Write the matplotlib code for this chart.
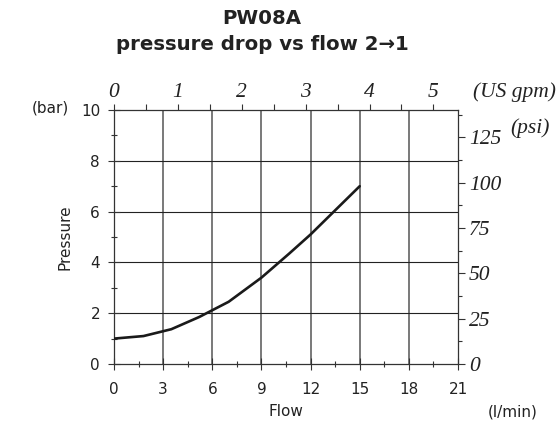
import matplotlib
matplotlib.use("Agg")
import matplotlib.pyplot as plt
from matplotlib.ticker import MultipleLocator

# Data
flow_lpm = [0, 1.8, 3.5, 5.2, 7.0, 9.0, 10.7, 12.0, 13.5, 15.0]
pressure_bar = [1.0, 1.1, 1.37, 1.85, 2.45, 3.4, 4.35, 5.1, 6.05, 7.0]
x_ticks = [0, 3, 6, 9, 12, 15, 18, 21]
y_ticks = [0, 2, 4, 6, 8, 10]
gpm_ticks = [0, 1, 2, 3, 4, 5]
psi_ticks = [0, 25, 50, 75, 100, 125]

LPM_PER_GPM = 3.9
PSI_PER_BAR = 14.0

W, H = 559, 433
fig = plt.figure(figsize=(W / 100, H / 100), dpi=100)
ax = fig.add_axes([114 / W, 1 - 364 / H, (458 - 114) / W, (364 - 110) / H])

ax.plot(flow_lpm, pressure_bar, color="#1a1a1a", lw=1.9, zorder=5, solid_capstyle="round")
ax.set_xlim(0, 21)
ax.set_ylim(0, 10)
ax.set_xticks(x_ticks)
ax.set_yticks(y_ticks)
ax.xaxis.set_minor_locator(MultipleLocator(1.5))
ax.yaxis.set_minor_locator(MultipleLocator(1))
for xv in x_ticks[1:-1]:
    ax.axvline(xv, color="#6e6e6e", lw=1.3, zorder=1)
for yv in y_ticks[1:-1]:
    ax.axhline(yv, color="#222222", lw=0.8, zorder=1)

for s in ax.spines.values():
    s.set_color("#333333")
    s.set_linewidth(0.9)

ax.tick_params(axis="both", which="major", direction="inout", length=8, width=0.8,
               color="#333333", labelsize=11, labelcolor="#222222", pad=4)
ax.tick_params(axis="both", which="minor", direction="inout", length=5, width=0.8, color="#333333")
ax.tick_params(axis="y", which="major", pad=6)
ax.tick_params(axis="x", which="major", pad=9)

serif_italic = dict(family="Liberation Serif", style="italic", size=15.5, color="#222222")

top = ax.secondary_xaxis("top", functions=(lambda x: x / LPM_PER_GPM, lambda g: g * LPM_PER_GPM))
top.set_xticks(gpm_ticks)
top.xaxis.set_minor_locator(MultipleLocator(0.5))
top.tick_params(which="both", direction="out", length=4, width=0.8, color="#333333", pad=2)
top.spines["top"].set_visible(False)
for lab in top.get_xticklabels():
    lab.set(**serif_italic)

right = ax.secondary_yaxis("right", functions=(lambda b: b * PSI_PER_BAR, lambda p: p / PSI_PER_BAR))
right.set_yticks(psi_ticks)
right.yaxis.set_minor_locator(MultipleLocator(12.5))
right.tick_params(which="major", direction="out", length=5, width=0.8, color="#333333", pad=3)
right.tick_params(which="minor", direction="out", length=3, width=0.8, color="#333333")
right.spines["right"].set_visible(False)
for lab in right.get_yticklabels():
    lab.set(**serif_italic)

def ft(x, y, s, **kw):
    fig.text(x / W, 1 - y / H, s, **kw)

ft(262, 19, "PW08A", ha="center", va="center", fontsize=14.2, fontweight="bold", color="#222222")
ft(262, 45, "pressure drop vs flow 2\u21921", ha="center", va="center", fontsize=14.2,
   fontweight="bold", color="#222222")
ft(50, 108, "(bar)", ha="center", va="center", fontsize=11, color="#222222")
ft(65, 237, "Pressure", ha="center", va="center", fontsize=11, rotation=90, color="#222222")
ft(286, 412, "Flow", ha="center", va="center", fontsize=11, color="#222222")
ft(513, 412, "(l/min)", ha="center", va="center", fontsize=11, color="#222222")
ft(514, 92, "(US gpm)", ha="center", va="center", **serif_italic)
ft(530, 128, "(psi)", ha="center", va="center", **serif_italic)

fig.savefig("out.png", dpi=100)
